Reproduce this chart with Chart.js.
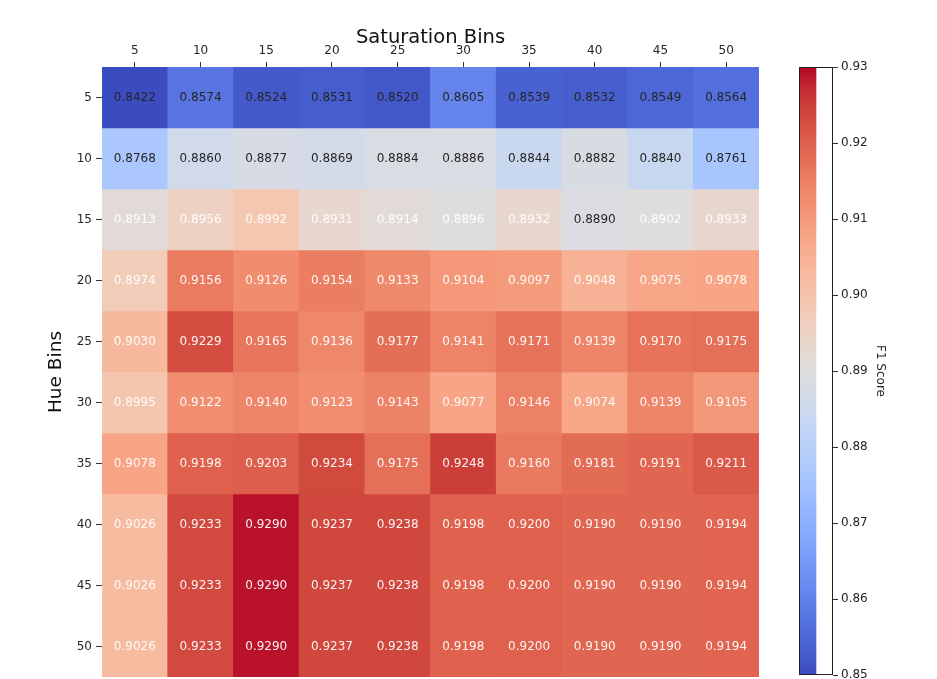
<!DOCTYPE html>
<html>
<head>
<meta charset="utf-8">
<script src="https://cdn.jsdelivr.net/npm/chart.js@4/dist/chart.umd.min.js"></script>
<style>
  html, body { margin: 0; padding: 0; background: #ffffff; }
  #wrap { position: relative; width: 937px; height: 679px; }
  #heat { position: absolute; left: 0; top: 0; }
  #cbar { position: absolute; left: 780px; top: 0; }
</style>
</head>
<body>
<div id="wrap">
  <canvas id="heat" width="780" height="679"></canvas>
  <canvas id="cbar" width="157" height="679"></canvas>
</div>
<script>
// Grid axes
const saturationBins = [5, 10, 15, 20, 25, 30, 35, 40, 45, 50];
const hueBins = [5, 10, 15, 20, 25, 30, 35, 40, 45, 50];

// F1 score per hue bin (row), one entry per saturation bin (column)
const f1Hue5  = [0.8422, 0.8574, 0.8524, 0.8531, 0.8520, 0.8605, 0.8539, 0.8532, 0.8549, 0.8564];
const f1Hue10 = [0.8768, 0.8860, 0.8877, 0.8869, 0.8884, 0.8886, 0.8844, 0.8882, 0.8840, 0.8761];
const f1Hue15 = [0.8913, 0.8956, 0.8992, 0.8931, 0.8914, 0.8896, 0.8932, 0.8890, 0.8902, 0.8933];
const f1Hue20 = [0.8974, 0.9156, 0.9126, 0.9154, 0.9133, 0.9104, 0.9097, 0.9048, 0.9075, 0.9078];
const f1Hue25 = [0.9030, 0.9229, 0.9165, 0.9136, 0.9177, 0.9141, 0.9171, 0.9139, 0.9170, 0.9175];
const f1Hue30 = [0.8995, 0.9122, 0.9140, 0.9123, 0.9143, 0.9077, 0.9146, 0.9074, 0.9139, 0.9105];
const f1Hue35 = [0.9078, 0.9198, 0.9203, 0.9234, 0.9175, 0.9248, 0.9160, 0.9181, 0.9191, 0.9211];
const f1Hue40 = [0.9026, 0.9233, 0.9290, 0.9237, 0.9238, 0.9198, 0.9200, 0.9190, 0.9190, 0.9194];
const f1Hue45 = [0.9026, 0.9233, 0.9290, 0.9237, 0.9238, 0.9198, 0.9200, 0.9190, 0.9190, 0.9194];
const f1Hue50 = [0.9026, 0.9233, 0.9290, 0.9237, 0.9238, 0.9198, 0.9200, 0.9190, 0.9190, 0.9194];
const f1Rows = [f1Hue5, f1Hue10, f1Hue15, f1Hue20, f1Hue25, f1Hue30, f1Hue35, f1Hue40, f1Hue45, f1Hue50];

// Colour scale limits and colorbar ticks
const scoreMin = 0.85;
const scoreMax = 0.93;
const colorbarTicks = [0.85, 0.86, 0.87, 0.88, 0.89, 0.90, 0.91, 0.92, 0.93];

// Diverging cool-warm colour map control points
const coolwarmStops = [
  [59,76,192],[68,90,204],[77,104,215],[87,117,225],[98,130,234],[108,142,241],
  [119,154,247],[130,165,251],[141,176,254],[152,185,255],[163,194,255],[174,201,253],
  [184,208,249],[194,213,244],[204,217,238],[213,219,230],[221,221,221],[229,216,209],
  [236,211,197],[241,204,185],[245,196,173],[247,187,160],[247,177,148],[247,166,135],
  [244,154,123],[241,141,111],[236,127,99],[229,112,88],[222,96,77],[213,80,66],
  [203,62,56],[192,40,47],[180,4,38]
];
function coolwarmAt(t) {
  t = Math.max(0, Math.min(1, t));
  const pos = t * (coolwarmStops.length - 1);
  const i = Math.min(Math.floor(pos), coolwarmStops.length - 2);
  const f = pos - i;
  const a = coolwarmStops[i], b = coolwarmStops[i + 1];
  const c = a.map((v, k) => Math.round(v + (b[k] - v) * f));
  return `rgb(${c[0]},${c[1]},${c[2]})`;
}
function scoreColor(v) {
  return coolwarmAt((v - scoreMin) / (scoreMax - scoreMin));
}

const FONT = '"DejaVu Sans", "Liberation Sans", sans-serif';
const TEXT_DARK = '#262626';

// Remove the extra room Chart.js reserves for end tick labels
function noScalePadding(scale) {
  scale.paddingTop = 0;
  scale.paddingBottom = 0;
  scale.paddingLeft = 0;
  scale.paddingRight = 0;
}

// Cell annotations and axis titles
const heatLabels = {
  id: 'heatLabels',
  afterDatasetsDraw(chart) {
    const ctx = chart.ctx;
    ctx.save();
    ctx.font = '12px ' + FONT;
    ctx.textAlign = 'center';
    ctx.textBaseline = 'middle';
    chart.data.datasets.forEach((ds, di) => {
      const meta = chart.getDatasetMeta(di);
      meta.data.forEach((el, i) => {
        const v = ds.scores[i];
        ctx.fillStyle = v < 0.8893 ? TEXT_DARK : 'rgba(255,255,255,0.93)';
        ctx.fillText(v.toFixed(4), el.x, (el.y + el.base) / 2);
      });
    });
    const area = chart.chartArea;
    ctx.fillStyle = '#111111';
    ctx.textBaseline = 'alphabetic';
    ctx.font = '19.5px ' + FONT;
    ctx.fillText('Saturation Bins', (area.left + area.right) / 2, 43);
    ctx.font = '18.5px ' + FONT;
    ctx.translate(61, (area.top + area.bottom) / 2);
    ctx.rotate(-Math.PI / 2);
    ctx.fillText('Hue Bins', 0, 0);
    ctx.restore();
  }
};

new Chart(document.getElementById('heat'), {
  type: 'bar',
  data: {
    labels: saturationBins.map(String),
    datasets: hueBins.map((h, r) => ({
      label: 'Hue ' + h,
      scores: f1Rows[r],
      data: f1Rows[r].map(() => [r, r + 1]),
      backgroundColor: f1Rows[r].map(scoreColor),
      borderWidth: 0,
      categoryPercentage: 1,
      barPercentage: 1,
      grouped: false
    }))
  },
  options: {
    responsive: false,
    animation: false,
    devicePixelRatio: 1,
    layout: { padding: { left: 0, top: 0, right: 21, bottom: 2 } },
    plugins: { legend: { display: false }, tooltip: { enabled: false } },
    scales: {
      x: {
        position: 'top',
        offset: true,
        grid: { offset: false, drawOnChartArea: false, tickLength: 5, color: '#333333', tickWidth: 1 },
        border: { display: false },
        ticks: { color: TEXT_DARK, font: { family: FONT, size: 12 }, padding: 4, maxRotation: 0 },
        afterFit(scale) { scale.height = 67; noScalePadding(scale); }
      },
      y: {
        type: 'linear',
        min: 0,
        max: hueBins.length,
        reverse: true,
        grid: { drawOnChartArea: false, tickLength: 6, color: '#333333', tickWidth: 1 },
        border: { display: false },
        afterBuildTicks(scale) {
          scale.ticks = hueBins.map((h, i) => ({ value: i + 0.5 }));
        },
        ticks: {
          color: TEXT_DARK,
          font: { family: FONT, size: 12 },
          padding: 4,
          callback: (value) => String(hueBins[Math.floor(value)])
        },
        afterFit(scale) { scale.width = 102; noScalePadding(scale); }
      }
    }
  },
  plugins: [heatLabels]
});

// Colorbar outline and label
const colorbarFrame = {
  id: 'colorbarFrame',
  afterDatasetsDraw(chart) {
    const ctx = chart.ctx;
    const a = chart.chartArea;
    ctx.save();
    ctx.strokeStyle = '#222222';
    ctx.lineWidth = 1;
    ctx.strokeRect(Math.round(a.left) + 0.5, Math.round(a.top) + 0.5,
                   Math.round(a.right - a.left) - 1, Math.round(a.bottom - a.top) - 1);
    ctx.fillStyle = TEXT_DARK;
    ctx.font = '12px ' + FONT;
    ctx.textAlign = 'center';
    ctx.textBaseline = 'middle';
    ctx.translate(100, (a.top + a.bottom) / 2);
    ctx.rotate(Math.PI / 2);
    ctx.fillText('F1 Score', 0, 0);
    ctx.restore();
  }
};

new Chart(document.getElementById('cbar'), {
  type: 'bar',
  data: {
    labels: ['F1 Score'],
    datasets: [{
      data: [[scoreMin, scoreMax]],
      borderWidth: 0,
      categoryPercentage: 1,
      barPercentage: 1,
      backgroundColor(context) {
        const chart = context.chart;
        const area = chart.chartArea;
        if (!area) return coolwarmAt(0.5);
        const g = chart.ctx.createLinearGradient(0, area.bottom, 0, area.top);
        coolwarmStops.forEach((c, i) => {
          g.addColorStop(i / (coolwarmStops.length - 1), `rgb(${c[0]},${c[1]},${c[2]})`);
        });
        return g;
      }
    }]
  },
  options: {
    responsive: false,
    animation: false,
    devicePixelRatio: 1,
    layout: { padding: { left: 19, top: 67, right: 0, bottom: 4 } },
    plugins: { legend: { display: false }, tooltip: { enabled: false } },
    scales: {
      x: { display: false, offset: false },
      y: {
        type: 'linear',
        position: 'right',
        min: scoreMin,
        max: scoreMax,
        grid: { drawOnChartArea: false, tickLength: 5, color: '#333333' },
        border: { display: false },
        afterBuildTicks(scale) {
          scale.ticks = colorbarTicks.map(v => ({ value: v }));
        },
        ticks: {
          color: TEXT_DARK,
          font: { family: FONT, size: 12 },
          padding: 3,
          callback: (value) => Number(value).toFixed(2)
        },
        afterFit(scale) { scale.width = 104; noScalePadding(scale); }
      }
    }
  },
  plugins: [colorbarFrame]
});
</script>
</body>
</html>
